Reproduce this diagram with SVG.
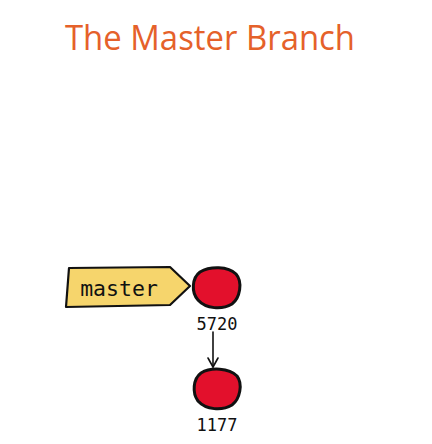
<svg xmlns="http://www.w3.org/2000/svg" width="432" height="444" viewBox="0 0 432 444">
<defs>
<style>
.title{font-family:"Open Sans","Liberation Sans",sans-serif;font-size:35px;fill:#E5612A}
.mono{font-family:"DejaVu Sans Mono","Liberation Mono",monospace;fill:#111}
.commit{fill:#E3102C;stroke:#111;stroke-width:3;stroke-linejoin:round}
.conn{fill:none;stroke:#111;stroke-width:1.6;stroke-linecap:round;stroke-linejoin:round}
</style>
</defs>
<rect width="432" height="444" fill="#fff"/>
<text class="title" x="210" y="50" text-anchor="middle" textLength="290" lengthAdjust="spacingAndGlyphs">The Master Branch</text>
<g id="master">
<path d="M69,268 L170,267 L190,286 L170,305 L66,307 Z" fill="#F6D56C" stroke="#111" stroke-width="2.2" stroke-linejoin="round"/>
<text class="mono" x="119" y="296" font-size="21.5" text-anchor="middle">master</text>
</g>
<g id="c5720">
<path class="commit" d="M200,272 C210,266 228,266 236,274 C243,282 240,298 232,304 C222,310 206,309 198,300 C191,292 192,278 200,272 Z"/>
<text class="mono" x="217" y="330" font-size="17" text-anchor="middle">5720</text>
</g>
<g id="c1177">
<path class="commit" d="M201,373 C211,367 229,368 237,376 C243,384 240,399 232,405 C222,411 206,410 198,401 C192,393 193,379 201,373 Z"/>
<text class="mono" x="217" y="431" font-size="17" text-anchor="middle">1177</text>
</g>
<g id="connectors">
<path class="conn" d="M213,332 L213,367"/>
<path class="conn" d="M208,358 L213,367 L218,358"/>
</g>
</svg>
